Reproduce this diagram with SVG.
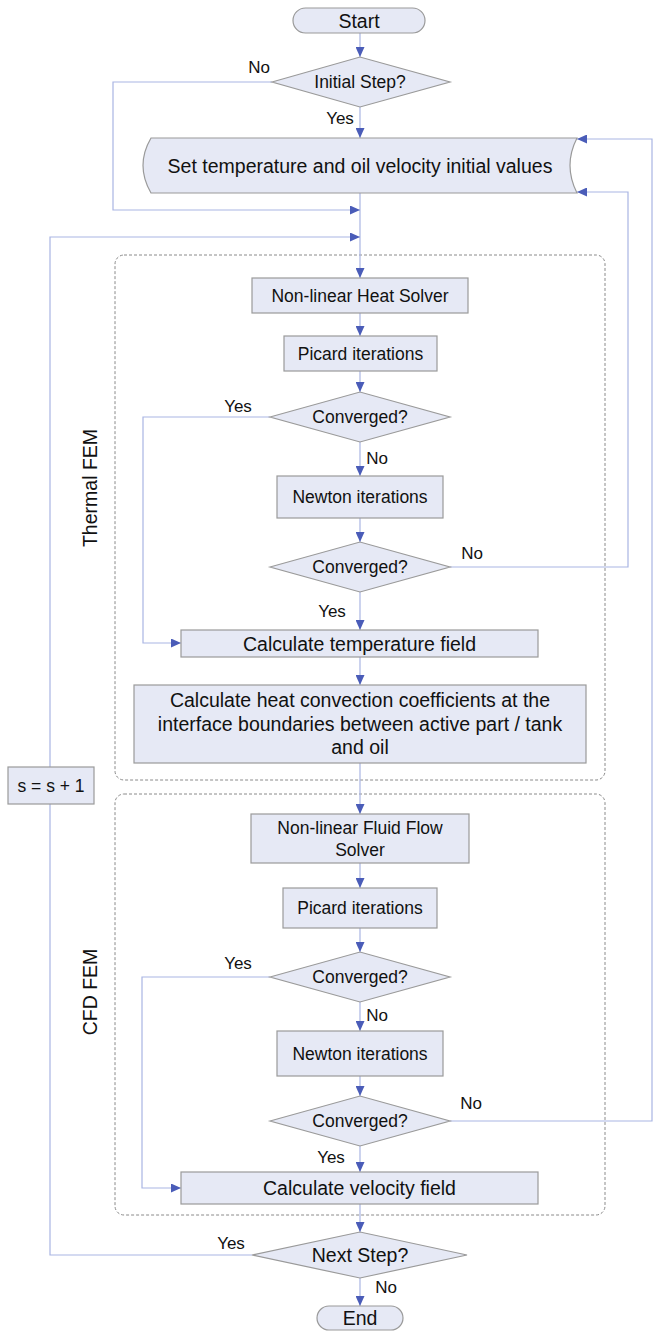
<svg xmlns="http://www.w3.org/2000/svg" width="656" height="1332" viewBox="0 0 656 1332">
<style>
  .box { fill: #e6e9f5; stroke: #9a9a9a; stroke-width: 1.2; }
  .grp { fill: none; stroke: #8a8a8a; stroke-width: 1; stroke-dasharray: 3 2; }
  .ln { fill: none; stroke: #a9b5e3; stroke-width: 1.2; }
  .t { font-family: "Liberation Sans", Arial, sans-serif; fill: #111; text-anchor: middle; dominant-baseline: central; }
  .s { font-size: 17.5px; }
  .b { font-size: 19.5px; }
  .lbl { font-size: 17px; }
</style>
<defs>
  <marker id="ah" markerWidth="10" markerHeight="9" refX="10" refY="4.5" orient="auto" markerUnits="userSpaceOnUse">
    <path d="M0,0 L10,4.5 L0,9 Z" fill="#4a5cb8"/>
  </marker>
</defs>
<rect width="656" height="1332" fill="#ffffff"/>

<g id="groups">
  <rect class="grp" x="115" y="255" width="490" height="525" rx="9"/>
  <rect class="grp" x="115" y="794" width="490" height="421" rx="9"/>
  <text class="t b" transform="translate(90,488) rotate(-90)">Thermal FEM</text>
  <text class="t b" transform="translate(90,992) rotate(-90)">CFD FEM</text>
</g>

<g id="connectors">
  <line class="ln" x1="360" y1="33" x2="360" y2="57" marker-end="url(#ah)"/>
  <line class="ln" x1="360" y1="107" x2="360" y2="138" marker-end="url(#ah)"/>
  <line class="ln" x1="360" y1="193" x2="360" y2="278" marker-end="url(#ah)"/>
  <polyline class="ln" points="272,82 113,82 113,210 360,210" marker-end="url(#ah)"/>
  <polyline class="ln" points="252,1255 50,1255 50,237 360,237" marker-end="url(#ah)"/>
  <line class="ln" x1="360" y1="313" x2="360" y2="336" marker-end="url(#ah)"/>
  <line class="ln" x1="360" y1="371" x2="360" y2="392" marker-end="url(#ah)"/>
  <line class="ln" x1="360" y1="442" x2="360" y2="476" marker-end="url(#ah)"/>
  <line class="ln" x1="360" y1="518" x2="360" y2="542" marker-end="url(#ah)"/>
  <line class="ln" x1="360" y1="592" x2="360" y2="630" marker-end="url(#ah)"/>
  <polyline class="ln" points="270,417 143,417 143,643 181,643" marker-end="url(#ah)"/>
  <polyline class="ln" points="450,567 628,567 628,192 577,192" marker-end="url(#ah)"/>
  <line class="ln" x1="360" y1="657" x2="360" y2="685" marker-end="url(#ah)"/>
  <line class="ln" x1="360" y1="763" x2="360" y2="814" marker-end="url(#ah)"/>
  <line class="ln" x1="360" y1="863" x2="360" y2="888" marker-end="url(#ah)"/>
  <line class="ln" x1="360" y1="928" x2="360" y2="952" marker-end="url(#ah)"/>
  <line class="ln" x1="360" y1="1002" x2="360" y2="1031" marker-end="url(#ah)"/>
  <line class="ln" x1="360" y1="1076" x2="360" y2="1096" marker-end="url(#ah)"/>
  <line class="ln" x1="360" y1="1146" x2="360" y2="1172" marker-end="url(#ah)"/>
  <polyline class="ln" points="270,977 142,977 142,1188 181,1188" marker-end="url(#ah)"/>
  <polyline class="ln" points="450,1121 652,1121 652,139 577,139" marker-end="url(#ah)"/>
  <line class="ln" x1="360" y1="1204" x2="360" y2="1232" marker-end="url(#ah)"/>
  <line class="ln" x1="360" y1="1278" x2="360" y2="1306" marker-end="url(#ah)"/>
</g>

<g id="labels">
  <text class="t lbl" x="259" y="67">No</text>
  <text class="t lbl" x="340" y="118">Yes</text>
  <text class="t lbl" x="238" y="406">Yes</text>
  <text class="t lbl" x="377" y="458">No</text>
  <text class="t lbl" x="472" y="553">No</text>
  <text class="t lbl" x="332" y="611">Yes</text>
  <text class="t lbl" x="238" y="963">Yes</text>
  <text class="t lbl" x="377" y="1015">No</text>
  <text class="t lbl" x="471" y="1103">No</text>
  <text class="t lbl" x="331" y="1157">Yes</text>
  <text class="t lbl" x="231" y="1243">Yes</text>
  <text class="t lbl" x="386" y="1287">No</text>
</g>

<g id="start">
  <rect class="box" x="293" y="8" width="132" height="25" rx="12.5"/>
  <text class="t b" x="359" y="20.5">Start</text>
</g>
<g id="initial-step">
  <polygon class="box" points="272,82 360,57 450,82 360,107"/>
  <text class="t s" x="360" y="82">Initial Step?</text>
</g>
<g id="set-initial">
  <path class="box" d="M151,138 H577 Q563,165.5 577,193 H151 Q135,165.5 151,138 Z"/>
  <text class="t b" x="360" y="165.5">Set temperature and oil velocity initial values</text>
</g>
<g id="s-increment">
  <rect class="box" x="8" y="767" width="86" height="37"/>
  <text class="t s" x="51" y="785.5">s = s + 1</text>
</g>

<g id="heat-solver">
  <rect class="box" x="252" y="278" width="216" height="35"/>
  <text class="t s" x="360" y="295.5">Non-linear Heat Solver</text>
</g>
<g id="picard-thermal">
  <rect class="box" x="284" y="336" width="153" height="35"/>
  <text class="t s" x="360.5" y="353.5">Picard iterations</text>
</g>
<g id="converged-t1">
  <polygon class="box" points="270,417 360,392 450,417 360,442"/>
  <text class="t s" x="360" y="417">Converged?</text>
</g>
<g id="newton-thermal">
  <rect class="box" x="277" y="476" width="166" height="42"/>
  <text class="t s" x="360" y="497">Newton iterations</text>
</g>
<g id="converged-t2">
  <polygon class="box" points="270,567 360,542 450,567 360,592"/>
  <text class="t s" x="360" y="567">Converged?</text>
</g>
<g id="temp-field">
  <rect class="box" x="181" y="630" width="357" height="27"/>
  <text class="t b" x="359.5" y="643.5">Calculate temperature field</text>
</g>
<g id="heat-convection">
  <rect class="box" x="134" y="685" width="452" height="78"/>
  <text class="t b" x="360" y="700">Calculate heat convection coefficients at the</text>
  <text class="t b" x="360" y="723.5">interface boundaries between active part / tank</text>
  <text class="t b" x="360" y="747">and oil</text>
</g>

<g id="fluid-solver">
  <rect class="box" x="251" y="814" width="218" height="49"/>
  <text class="t s" x="360" y="828">Non-linear Fluid Flow</text>
  <text class="t s" x="360" y="850">Solver</text>
</g>
<g id="picard-cfd">
  <rect class="box" x="283" y="888" width="154" height="40"/>
  <text class="t s" x="360" y="908">Picard iterations</text>
</g>
<g id="converged-c1">
  <polygon class="box" points="270,977 360,952 450,977 360,1002"/>
  <text class="t s" x="360" y="977">Converged?</text>
</g>
<g id="newton-cfd">
  <rect class="box" x="277" y="1031" width="166" height="45"/>
  <text class="t s" x="360" y="1053.5">Newton iterations</text>
</g>
<g id="converged-c2">
  <polygon class="box" points="270,1121 360,1096 450,1121 360,1146"/>
  <text class="t s" x="360" y="1121">Converged?</text>
</g>
<g id="velocity-field">
  <rect class="box" x="181" y="1172" width="357" height="32"/>
  <text class="t b" x="359.5" y="1188">Calculate velocity field</text>
</g>
<g id="next-step">
  <polygon class="box" points="252,1255 360,1232 467,1255 360,1278"/>
  <text class="t b" x="360" y="1255">Next Step?</text>
</g>
<g id="end">
  <rect class="box" x="317" y="1306" width="86" height="24" rx="12"/>
  <text class="t b" x="360" y="1318">End</text>
</g>
</svg>
